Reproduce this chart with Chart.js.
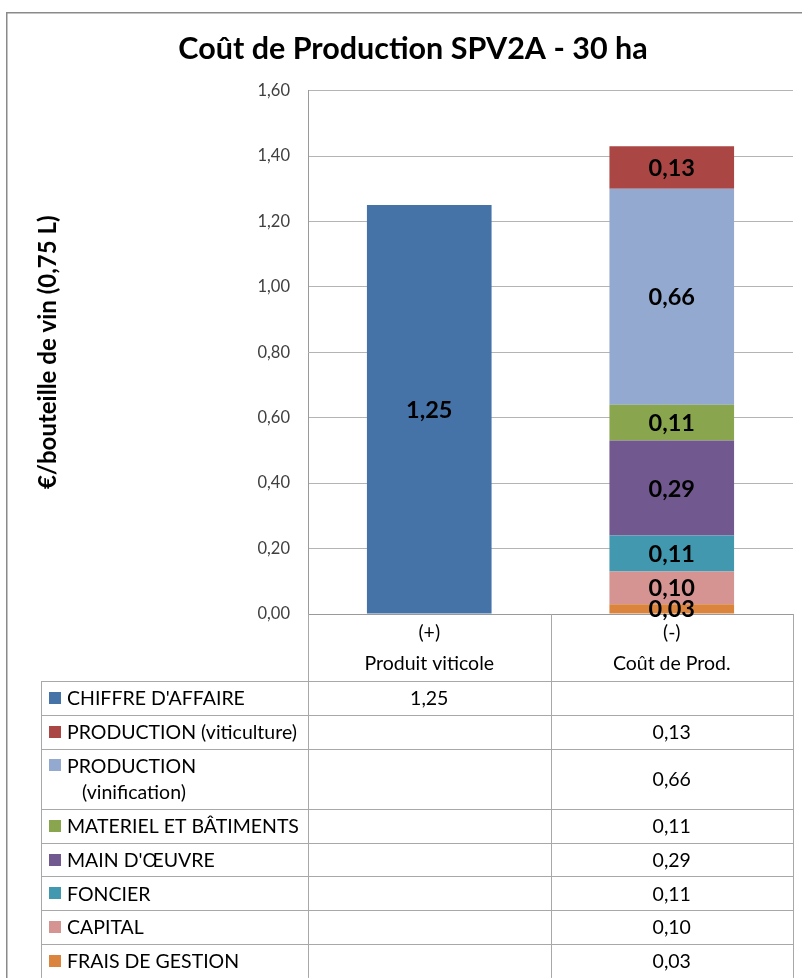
<!DOCTYPE html>
<html>
<head>
<meta charset="utf-8">
<script src="https://cdn.jsdelivr.net/npm/chart.js@4.4.1/dist/chart.umd.min.js"></script>
<style>
  html, body { margin: 0; padding: 0; background: #ffffff; }
  #wrap { width: 802px; height: 978px; position: relative; }
</style>
</head>
<body>
<div id="wrap"><canvas id="c" width="802" height="978"></canvas></div>
<script>
// ---------- DATA ----------
const chartTitle = 'Coût de Production SPV2A - 30 ha';
const yAxisTitle = '€/bouteille de vin (0,75 L)';
const categoryLabels = [['(+)', 'Produit viticole'], ['(-)', 'Coût de Prod.']];
const yTickLabels = ['0,00', '0,20', '0,40', '0,60', '0,80', '1,00', '1,20', '1,40', '1,60'];

const seriesNames = [
  "CHIFFRE D'AFFAIRE",
  'PRODUCTION (viticulture)',
  'PRODUCTION (vinification)',
  'MATERIEL ET BÂTIMENTS',
  "MAIN D'ŒUVRE",
  'FONCIER',
  'CAPITAL',
  'FRAIS DE GESTION'
];
// How each series name is written in the data table (wrapped lines)
const tableRowLabels = [
  ["CHIFFRE D'AFFAIRE"],
  ['PRODUCTION (viticulture)'],
  ['PRODUCTION', '   (vinification)'],
  ['MATERIEL ET BÂTIMENTS'],
  ["MAIN D'ŒUVRE"],
  ['FONCIER'],
  ['CAPITAL'],
  ['FRAIS DE GESTION']
];
const seriesColors = ['#4572A7', '#AA4643', '#93A9CF', '#89A54E', '#71588F', '#4198AF', '#D59391', '#DB843D'];

const chiffreAffaire        = [1.25, null];
const productionViticulture = [null, 0.13];
const productionVinification= [null, 0.66];
const materielBatiments     = [null, 0.11];
const mainOeuvre            = [null, 0.29];
const foncier               = [null, 0.11];
const capital               = [null, 0.10];
const fraisGestion          = [null, 0.03];

const seriesValues = [chiffreAffaire, productionViticulture, productionVinification,
  materielBatiments, mainOeuvre, foncier, capital, fraisGestion];

// ---------- HELPERS ----------
const FONT = 'Lato, "Open Sans", "DejaVu Sans", sans-serif';
const fmt = v => v.toFixed(2).replace('.', ',');

// Stacking: last table row at the bottom of the stack
const datasets = seriesNames.map((name, i) => ({
  label: name,
  data: seriesValues[i],
  backgroundColor: seriesColors[i],
  borderWidth: 0
})).reverse();

const framePlugin = {
  id: 'frame',
  beforeDraw(chart) {
    const ctx = chart.ctx;
    ctx.save();
    ctx.fillStyle = '#ffffff';
    ctx.fillRect(0, 0, chart.width, chart.height);
    ctx.strokeStyle = '#8a8a8a';
    ctx.lineWidth = 1.5;
    ctx.strokeRect(6.75, 12.75, chart.width + 20, chart.height + 20);
    ctx.restore();
  }
};

const valueLabelPlugin = {
  id: 'valueLabels',
  afterDatasetsDraw(chart) {
    const ctx = chart.ctx;
    ctx.save();
    ctx.font = 'bold 23.5px ' + FONT;
    ctx.fillStyle = '#000000';
    ctx.textAlign = 'center';
    ctx.textBaseline = 'middle';
    chart.data.datasets.forEach((ds, di) => {
      const meta = chart.getDatasetMeta(di);
      meta.data.forEach((el, j) => {
        const v = ds.data[j];
        if (v === null || v === undefined) return;
        const p = el.getProps(['x', 'y', 'base'], true);
        ctx.fillText(fmt(v), p.x, (p.y + p.base) / 2 + 1);
      });
    });
    ctx.restore();
  }
};

const tablePlugin = {
  id: 'dataTable',
  afterDraw(chart) {
    const ctx = chart.ctx;
    const ca = chart.chartArea;
    const xs = chart.scales.x;
    const colL = ca.left, colR = ca.right;
    const colMid = (xs.getPixelForValue(0) + xs.getPixelForValue(1)) / 2;
    const colCenters = [(colL + colMid) / 2, (colMid + colR) / 2];
    const tableLeft = 41;
    const headTop = ca.bottom;
    const headBottom = xs.bottom;
    const singleH = 33.8, extraLineH = 26.5;

    ctx.save();
    ctx.strokeStyle = '#a8a8a8';
    ctx.lineWidth = 1;
    const rowTops = [];
    let y = headBottom;
    tableRowLabels.forEach(lines => {
      const h = singleH + (lines.length - 1) * extraLineH;
      rowTops.push([y, h]);
      y += h;
    });
    const tableBottom = y;
    const L = v => Math.round(v) + 0.5;
    ctx.beginPath();
    [colL, colMid, colR].forEach(x => { ctx.moveTo(L(x), headTop); ctx.lineTo(L(x), tableBottom); });
    ctx.moveTo(L(tableLeft), headBottom); ctx.lineTo(L(tableLeft), tableBottom);
    ctx.moveTo(tableLeft, L(headBottom)); ctx.lineTo(colR, L(headBottom));
    rowTops.forEach(([t, h]) => { ctx.moveTo(tableLeft, L(t + h)); ctx.lineTo(colR, L(t + h)); });
    ctx.stroke();

    ctx.font = '19.5px ' + FONT;
    ctx.textBaseline = 'middle';
    tableRowLabels.forEach((lines, i) => {
      const [t, h] = rowTops[i];
      const cy = t + h / 2;
      const firstY = cy - (lines.length - 1) * extraLineH / 2;
      ctx.fillStyle = seriesColors[i];
      ctx.fillRect(49, Math.round(firstY - 6), 12, 12);
      ctx.fillStyle = '#000000';
      ctx.textAlign = 'left';
      lines.forEach((ln, k) => ctx.fillText(ln, 67, firstY + k * extraLineH + 1));
      ctx.textAlign = 'center';
      seriesValues[i].forEach((v, j) => {
        if (v === null || v === undefined) return;
        ctx.fillText(fmt(v), colCenters[j], cy + 1);
      });
    });
    ctx.restore();
  }
};

Chart.defaults.font.family = FONT;

new Chart(document.getElementById('c'), {
  type: 'bar',
  data: { labels: categoryLabels, datasets },
  plugins: [framePlugin, valueLabelPlugin, tablePlugin],
  options: {
    responsive: false,
    animation: false,
    devicePixelRatio: 1,
    layout: { padding: { top: 12, left: 33, right: 9, bottom: 297 } },
    datasets: { bar: { barPercentage: 0.514, categoryPercentage: 1.0 } },
    plugins: {
      legend: { display: false },
      tooltip: { enabled: false },
      title: {
        display: true,
        text: chartTitle,
        color: '#000000',
        font: { family: FONT, size: 30.5, weight: 'bold', lineHeight: 1.2 },
        padding: { top: 18.5, bottom: 23.5 }
      }
    },
    scales: {
      x: {
        stacked: true,
        grid: { display: false, drawTicks: false },
        border: { display: true, color: '#9a9a9a', width: 1 },
        ticks: {
          color: '#000000',
          font: { family: FONT, size: 19.5, lineHeight: 31 / 19.5 },
          padding: 3,
          maxRotation: 0,
          autoSkip: false
        },
        afterFit(s) { s.height = 67; }
      },
      y: {
        stacked: true,
        min: 0,
        max: 1.6,
        grid: { color: '#b4b4b4', drawTicks: false },
        border: { display: true, color: '#9a9a9a', width: 1 },
        ticks: {
          stepSize: 0.2,
          color: '#404040',
          font: { family: FONT, size: 16.5 },
          padding: 18,
          callback: (v, i) => yTickLabels[i]
        },
        title: {
          display: true,
          text: yAxisTitle,
          color: '#000000',
          font: { family: FONT, size: 24, weight: 'bold' },
          padding: { top: 1, bottom: 1 }
        },
        afterFit(s) { s.width = 275; }
      }
    }
  }
});
</script>
</body>
</html>
